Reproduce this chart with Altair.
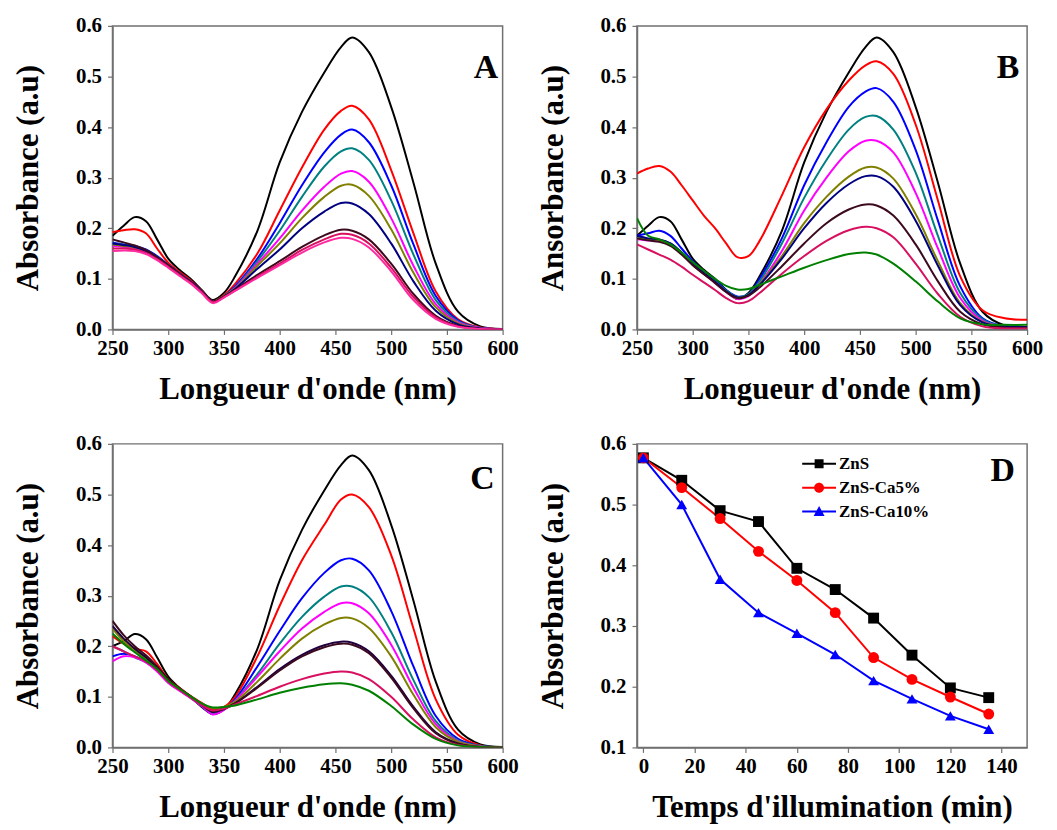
import altair as alt
import pandas as pd

FONT = "Liberation Serif"

# ---------------- spectra (panels A, B, C) ----------------
NM = [250, 260, 270, 280, 290, 300, 310, 320, 330, 340, 350, 360, 380, 400,
      420, 440, 455, 465, 480, 500, 520, 540, 560, 580, 600]

# Panel A (ZnS)
A_BLACK = [0.185, 0.205, 0.222, 0.214, 0.178, 0.140, 0.118, 0.100, 0.078, 0.058, 0.072, 0.105, 0.195, 0.330,
           0.430, 0.508, 0.558, 0.577, 0.548, 0.440, 0.290, 0.130, 0.035, 0.006, 0.001]
A_RED = [0.192, 0.196, 0.198, 0.190, 0.160, 0.132, 0.114, 0.097, 0.076, 0.056, 0.068, 0.090, 0.150, 0.235,
         0.320, 0.395, 0.432, 0.442, 0.415, 0.315, 0.190, 0.075, 0.020, 0.004, 0.001]
A_BLUE = [0.172, 0.168, 0.165, 0.158, 0.145, 0.128, 0.111, 0.095, 0.075, 0.055, 0.066, 0.085, 0.140, 0.210,
          0.285, 0.350, 0.385, 0.395, 0.370, 0.285, 0.168, 0.066, 0.018, 0.003, 0.001]
A_TEAL = [0.170, 0.167, 0.164, 0.156, 0.143, 0.127, 0.110, 0.094, 0.074, 0.055, 0.066, 0.083, 0.135, 0.195,
          0.262, 0.322, 0.352, 0.358, 0.335, 0.255, 0.148, 0.058, 0.016, 0.003, 0.001]
A_MAGENTA = [0.165, 0.163, 0.161, 0.154, 0.141, 0.125, 0.108, 0.093, 0.073, 0.054, 0.065, 0.082, 0.130, 0.180,
             0.235, 0.282, 0.308, 0.313, 0.292, 0.220, 0.126, 0.050, 0.014, 0.003, 0.001]
A_OLIVE = [0.168, 0.165, 0.162, 0.155, 0.142, 0.126, 0.109, 0.093, 0.074, 0.055, 0.066, 0.081, 0.126, 0.170,
           0.220, 0.262, 0.284, 0.286, 0.264, 0.198, 0.112, 0.044, 0.012, 0.002, 0.001]
A_NAVY = [0.170, 0.167, 0.163, 0.155, 0.142, 0.126, 0.109, 0.093, 0.074, 0.055, 0.065, 0.080, 0.120, 0.158,
          0.200, 0.233, 0.250, 0.249, 0.228, 0.170, 0.095, 0.037, 0.010, 0.002, 0.001]
A_WINE = [0.178, 0.172, 0.166, 0.157, 0.143, 0.127, 0.110, 0.094, 0.074, 0.055, 0.065, 0.078, 0.108, 0.135,
          0.163, 0.186, 0.197, 0.195, 0.178, 0.130, 0.070, 0.027, 0.007, 0.001, 0.000]
A_CRIMSON = [0.160, 0.160, 0.158, 0.151, 0.139, 0.124, 0.108, 0.092, 0.073, 0.054, 0.064, 0.077, 0.104, 0.130,
             0.157, 0.178, 0.189, 0.187, 0.170, 0.122, 0.064, 0.024, 0.006, 0.001, 0.000]
A_PINK = [0.155, 0.156, 0.155, 0.149, 0.137, 0.122, 0.106, 0.091, 0.072, 0.052, 0.063, 0.076, 0.102, 0.127,
          0.152, 0.172, 0.181, 0.179, 0.162, 0.115, 0.058, 0.021, 0.005, 0.001, 0.000]

# Panel B (ZnS-Ca5%)
B_BLACK = [0.185, 0.205, 0.222, 0.214, 0.178, 0.140, 0.118, 0.100, 0.078, 0.060, 0.072, 0.105, 0.195, 0.330,
           0.430, 0.508, 0.558, 0.577, 0.548, 0.440, 0.290, 0.130, 0.035, 0.008, 0.005]
B_RED = [0.308, 0.318, 0.323, 0.312, 0.285, 0.255, 0.225, 0.200, 0.170, 0.143, 0.145, 0.175, 0.265, 0.360,
         0.435, 0.492, 0.522, 0.530, 0.505, 0.405, 0.255, 0.105, 0.038, 0.022, 0.019]
B_BLUE = [0.185, 0.190, 0.195, 0.185, 0.160, 0.135, 0.115, 0.097, 0.078, 0.065, 0.070, 0.100, 0.180, 0.285,
          0.370, 0.440, 0.470, 0.477, 0.450, 0.355, 0.215, 0.085, 0.022, 0.006, 0.004]
B_TEAL = [0.180, 0.178, 0.177, 0.170, 0.152, 0.130, 0.112, 0.095, 0.077, 0.064, 0.070, 0.095, 0.170, 0.260,
          0.335, 0.395, 0.420, 0.422, 0.395, 0.310, 0.185, 0.072, 0.020, 0.006, 0.005]
B_MAGENTA = [0.178, 0.176, 0.175, 0.168, 0.150, 0.128, 0.110, 0.092, 0.074, 0.060, 0.066, 0.090, 0.155, 0.235,
             0.300, 0.352, 0.373, 0.373, 0.350, 0.270, 0.160, 0.062, 0.017, 0.005, 0.004]
B_OLIVE = [0.180, 0.178, 0.176, 0.168, 0.150, 0.128, 0.110, 0.093, 0.075, 0.062, 0.068, 0.090, 0.145, 0.210,
           0.262, 0.302, 0.320, 0.320, 0.298, 0.228, 0.135, 0.052, 0.015, 0.006, 0.005]
B_NAVY = [0.185, 0.180, 0.178, 0.170, 0.152, 0.130, 0.111, 0.094, 0.075, 0.063, 0.068, 0.088, 0.140, 0.200,
          0.250, 0.287, 0.303, 0.303, 0.282, 0.215, 0.126, 0.048, 0.014, 0.006, 0.005]
B_WINE = [0.180, 0.176, 0.173, 0.165, 0.148, 0.127, 0.109, 0.092, 0.074, 0.062, 0.067, 0.083, 0.125, 0.170,
          0.210, 0.237, 0.247, 0.245, 0.225, 0.168, 0.095, 0.035, 0.010, 0.004, 0.004]
B_PINK = [0.168, 0.158, 0.148, 0.138, 0.124, 0.108, 0.093, 0.078, 0.062, 0.052, 0.056, 0.072, 0.110, 0.145,
          0.175, 0.196, 0.203, 0.200, 0.182, 0.130, 0.070, 0.025, 0.006, 0.002, 0.002]
B_GREEN = [0.220, 0.185, 0.178, 0.168, 0.152, 0.133, 0.116, 0.100, 0.086, 0.079, 0.080, 0.088, 0.105, 0.122,
           0.137, 0.149, 0.152, 0.148, 0.130, 0.095, 0.055, 0.022, 0.010, 0.009, 0.009]

# Panel C (ZnS-Ca10%)
C_BLACK = [0.200, 0.210, 0.224, 0.214, 0.178, 0.140, 0.118, 0.100, 0.080, 0.066, 0.075, 0.105, 0.195, 0.330,
           0.430, 0.508, 0.558, 0.577, 0.548, 0.440, 0.290, 0.130, 0.035, 0.006, 0.001]
C_RED = [0.220, 0.205, 0.195, 0.190, 0.165, 0.135, 0.118, 0.102, 0.088, 0.075, 0.080, 0.100, 0.180, 0.280,
         0.370, 0.440, 0.490, 0.500, 0.475, 0.380, 0.235, 0.095, 0.025, 0.004, 0.001]
C_BLUE = [0.180, 0.185, 0.180, 0.170, 0.155, 0.130, 0.115, 0.100, 0.082, 0.066, 0.075, 0.095, 0.160, 0.230,
          0.295, 0.345, 0.370, 0.373, 0.350, 0.270, 0.160, 0.062, 0.017, 0.003, 0.001]
C_TEAL = [0.200, 0.190, 0.178, 0.168, 0.152, 0.128, 0.113, 0.098, 0.082, 0.068, 0.075, 0.093, 0.145, 0.205,
          0.258, 0.298, 0.318, 0.318, 0.297, 0.228, 0.133, 0.052, 0.014, 0.003, 0.001]
C_MAGENTA = [0.170, 0.180, 0.178, 0.168, 0.150, 0.128, 0.112, 0.098, 0.082, 0.065, 0.074, 0.092, 0.140, 0.190,
             0.235, 0.268, 0.285, 0.285, 0.265, 0.203, 0.118, 0.046, 0.012, 0.002, 0.000]
C_OLIVE = [0.235, 0.210, 0.192, 0.175, 0.155, 0.132, 0.116, 0.101, 0.086, 0.078, 0.080, 0.090, 0.130, 0.175,
           0.215, 0.243, 0.256, 0.255, 0.236, 0.180, 0.104, 0.040, 0.011, 0.002, 0.000]
C_NAVY = [0.240, 0.215, 0.195, 0.178, 0.157, 0.133, 0.116, 0.100, 0.084, 0.070, 0.076, 0.087, 0.120, 0.155,
          0.183, 0.202, 0.209, 0.207, 0.190, 0.142, 0.080, 0.030, 0.008, 0.001, 0.000]
C_WINE = [0.250, 0.222, 0.200, 0.182, 0.160, 0.135, 0.117, 0.101, 0.085, 0.072, 0.077, 0.087, 0.118, 0.152,
          0.180, 0.198, 0.205, 0.203, 0.186, 0.138, 0.077, 0.028, 0.007, 0.001, 0.000]
C_PINK = [0.200, 0.190, 0.180, 0.170, 0.153, 0.130, 0.114, 0.099, 0.084, 0.073, 0.077, 0.085, 0.102, 0.120,
          0.135, 0.146, 0.150, 0.148, 0.135, 0.100, 0.055, 0.020, 0.005, 0.001, 0.000]
C_GREEN = [0.225, 0.205, 0.188, 0.172, 0.155, 0.132, 0.116, 0.101, 0.087, 0.079, 0.080, 0.083, 0.095, 0.108,
           0.118, 0.125, 0.127, 0.124, 0.112, 0.082, 0.045, 0.017, 0.004, 0.001, 0.000]

C_K, C_R, C_B, C_T = "#000000", "#ff0000", "#0000ff", "#008080"
C_M, C_O, C_N, C_W = "#ff00ff", "#808000", "#000080", "#3c0a1e"
C_CR, C_PK, C_G = "#d81060", "#ff2aa0", "#008000"

PANEL_A = [("A01", C_K, A_BLACK), ("A02", C_R, A_RED), ("A03", C_B, A_BLUE), ("A04", C_T, A_TEAL),
           ("A05", C_M, A_MAGENTA), ("A06", C_O, A_OLIVE), ("A07", C_N, A_NAVY), ("A08", C_W, A_WINE),
           ("A09", C_CR, A_CRIMSON), ("A10", C_PK, A_PINK)]
PANEL_B = [("B01", C_K, B_BLACK), ("B02", C_R, B_RED), ("B03", C_B, B_BLUE), ("B04", C_T, B_TEAL),
           ("B05", C_M, B_MAGENTA), ("B06", C_O, B_OLIVE), ("B07", C_N, B_NAVY), ("B08", C_W, B_WINE),
           ("B09", C_CR, B_PINK), ("B10", C_G, B_GREEN)]
PANEL_C = [("C01", C_K, C_BLACK), ("C02", C_R, C_RED), ("C03", C_B, C_BLUE), ("C04", C_T, C_TEAL),
           ("C05", C_M, C_MAGENTA), ("C06", C_O, C_OLIVE), ("C07", "#200040", C_NAVY), ("C08", C_W, C_WINE),
           ("C09", C_CR, C_PINK), ("C10", C_G, C_GREEN)]

# ---------------- kinetics (panel D) ----------------
T_MIN = [0, 15, 30, 45, 60, 75, 90, 105, 120, 135]
D_ZNS = [0.577, 0.540, 0.490, 0.472, 0.395, 0.360, 0.313, 0.252, 0.198, 0.182]
D_CA5 = [0.577, 0.528, 0.477, 0.423, 0.375, 0.322, 0.248, 0.212, 0.183, 0.155]
D_CA10 = [0.577, 0.500, 0.377, 0.322, 0.288, 0.253, 0.210, 0.180, 0.152, 0.130]
D_NAMES = ["ZnS", "ZnS-Ca5%", "ZnS-Ca10%"]
D_COLORS = ["#000000", "#ff0000", "#0000ff"]

W, H = 392, 305
AX_COL = "#707070"

X_TICKS = [250, 275, 300, 325, 350, 375, 400, 425, 450, 475, 500, 525, 550, 575, 600]
Y_TICKS = [0.0, 0.05, 0.1, 0.15, 0.2, 0.25, 0.3, 0.35, 0.4, 0.45, 0.5, 0.55, 0.6]
D_X_TICKS = [0, 10, 20, 30, 40, 50, 60, 70, 80, 90, 100, 110, 120, 130, 140, 150]
D_Y_TICKS = [0.1, 0.15, 0.2, 0.25, 0.3, 0.35, 0.4, 0.45, 0.5, 0.55, 0.6]

Y_LABEL_EXPR = "abs(datum.value*10 - round(datum.value*10)) < 0.001 ? format(datum.value, '.1f') : ''"


def spectra_panel(series, letter, ytitle, lx, ly):
    rows = []
    for name, _col, vals in series:
        for x, v in zip(NM, vals):
            rows.append({"series": name, "nm": x, "A": v})
    df = pd.DataFrame(rows)
    names = [s[0] for s in series]
    cols = [s[1] for s in series]
    lines = alt.Chart(df).mark_line(strokeWidth=2, interpolate="catmull-rom", clip=True).encode(
        x=alt.X("nm:Q", scale=alt.Scale(domain=[250, 600], nice=False, zero=False),
                axis=alt.Axis(title="Longueur d'onde (nm)", values=X_TICKS, format="d",
                              labelExpr="datum.value % 50 == 0 ? datum.label : ''")),
        y=alt.Y("A:Q", scale=alt.Scale(domain=[0, 0.6], nice=False),
                axis=alt.Axis(title=ytitle, values=Y_TICKS, labelExpr=Y_LABEL_EXPR)),
        color=alt.Color("series:N", scale=alt.Scale(domain=names, range=cols), legend=None),
    )
    lab = alt.Chart(pd.DataFrame({"x": [lx], "y": [ly], "t": [letter]})).mark_text(
        font=FONT, fontSize=34, fontWeight="bold", color="black", align="center", baseline="middle"
    ).encode(x="x:Q", y="y:Q", text="t:N")
    return alt.layer(lines, lab).properties(width=W, height=H)


panel_a = spectra_panel(PANEL_A, "A", "Absorbance (a.u)", 585, 0.516)
panel_b = spectra_panel(PANEL_B, "B", "Ansorbance (a.u)", 583, 0.516)
panel_c = spectra_panel(PANEL_C, "C", "Absorbance (a.u)", 582, 0.53)

# panel D
drows = []
for name, vals in zip(D_NAMES, [D_ZNS, D_CA5, D_CA10]):
    for t, v in zip(T_MIN, vals):
        drows.append({"series": name, "t": t, "A": v})
ddf = pd.DataFrame(drows)

dx = alt.X("t:Q", scale=alt.Scale(domain=[-2.5, 150], nice=False, zero=False),
           axis=alt.Axis(title="Temps d'illumination (min)", values=D_X_TICKS, format="d",
                         labelExpr="datum.value % 20 == 0 ? datum.label : ''"))
dy = alt.Y("A:Q", scale=alt.Scale(domain=[0.1, 0.6], nice=False, zero=False),
           axis=alt.Axis(title="Absorbance (a.u)", values=D_Y_TICKS, labelExpr=Y_LABEL_EXPR))
dcolor = alt.Color("series:N", scale=alt.Scale(domain=D_NAMES, range=D_COLORS), legend=None)

d_lines = alt.Chart(ddf).mark_line(strokeWidth=2).encode(x=dx, y=dy, color=dcolor)
d_points = alt.Chart(ddf).mark_point(filled=True, size=120, opacity=1).encode(
    x=dx, y=dy, color=dcolor,
    shape=alt.Shape("series:N", scale=alt.Scale(domain=D_NAMES, range=["square", "circle", "triangle-up"]),
                    legend=None),
)

SYM_SQUARE = ("M-1.7,-0.1 L1.7,-0.1 L1.7,0.1 L-1.7,0.1 Z "
              "M-0.45,-0.45 L0.45,-0.45 L0.45,0.45 L-0.45,0.45 Z")
SYM_CIRCLE = ("M-1.7,-0.1 L1.7,-0.1 L1.7,0.1 L-1.7,0.1 Z "
              "M0.5,0 A0.5,0.5 0 1,1 -0.5,0 A0.5,0.5 0 1,1 0.5,0 Z")
SYM_TRI = ("M-1.7,-0.1 L1.7,-0.1 L1.7,0.1 L-1.7,0.1 Z "
           "M0,-0.55 L0.55,0.45 L-0.55,0.45 Z")

d_legend = alt.Chart(ddf).mark_point(filled=True, size=400, opacity=1).encode(
    x=dx, y=dy,
    color=alt.Color("series:N", scale=alt.Scale(domain=D_NAMES, range=D_COLORS),
                    legend=alt.Legend(title=None, orient="none", legendX=173, legendY=10,
                                      labelFont=FONT, labelFontWeight="bold", labelFontSize=17,
                                      labelColor="black", labelOffset=10, rowPadding=6,
                                      symbolSize=400, symbolStrokeWidth=0, symbolOpacity=1)),
    shape=alt.Shape("series:N", scale=alt.Scale(domain=D_NAMES, range=[SYM_SQUARE, SYM_CIRCLE, SYM_TRI])),
).transform_filter("datum.A > 5")

d_lab = alt.Chart(pd.DataFrame({"x": [140.5], "y": [0.556], "t": ["D"]})).mark_text(
    font=FONT, fontSize=34, fontWeight="bold", color="black", align="center", baseline="middle"
).encode(x="x:Q", y="y:Q", text="t:N")

panel_d = alt.layer(d_lines, d_points, d_legend, d_lab).resolve_scale(
    color="independent", shape="independent"
).properties(width=W, height=H)

chart = alt.concat(
    panel_a, panel_b, panel_c, panel_d, columns=2,
    spacing={"row": 115, "column": 135}, bounds="flush"
).resolve_scale(color="independent", shape="independent", x="independent", y="independent").properties(
    padding={"left": 4, "top": 4, "right": 5, "bottom": 2}, background="white"
).configure_view(
    stroke=AX_COL, strokeWidth=1.5
).configure_axis(
    grid=False, domainColor=AX_COL, domainWidth=1.5, tickColor=AX_COL, tickWidth=1.2, tickSize=5,
    labelFont=FONT, labelFontWeight="bold", labelFontSize=21, labelColor="black", labelPadding=3,
    labelFlush=False,
    titleFont=FONT, titleFontWeight="bold", titleFontSize=31, titleColor="black",
).configure_axisX(titlePadding=16).configure_axisY(titlePadding=31, labelPadding=6)

chart.save("out.html", embed_options={"renderer": "svg", "actions": False})
